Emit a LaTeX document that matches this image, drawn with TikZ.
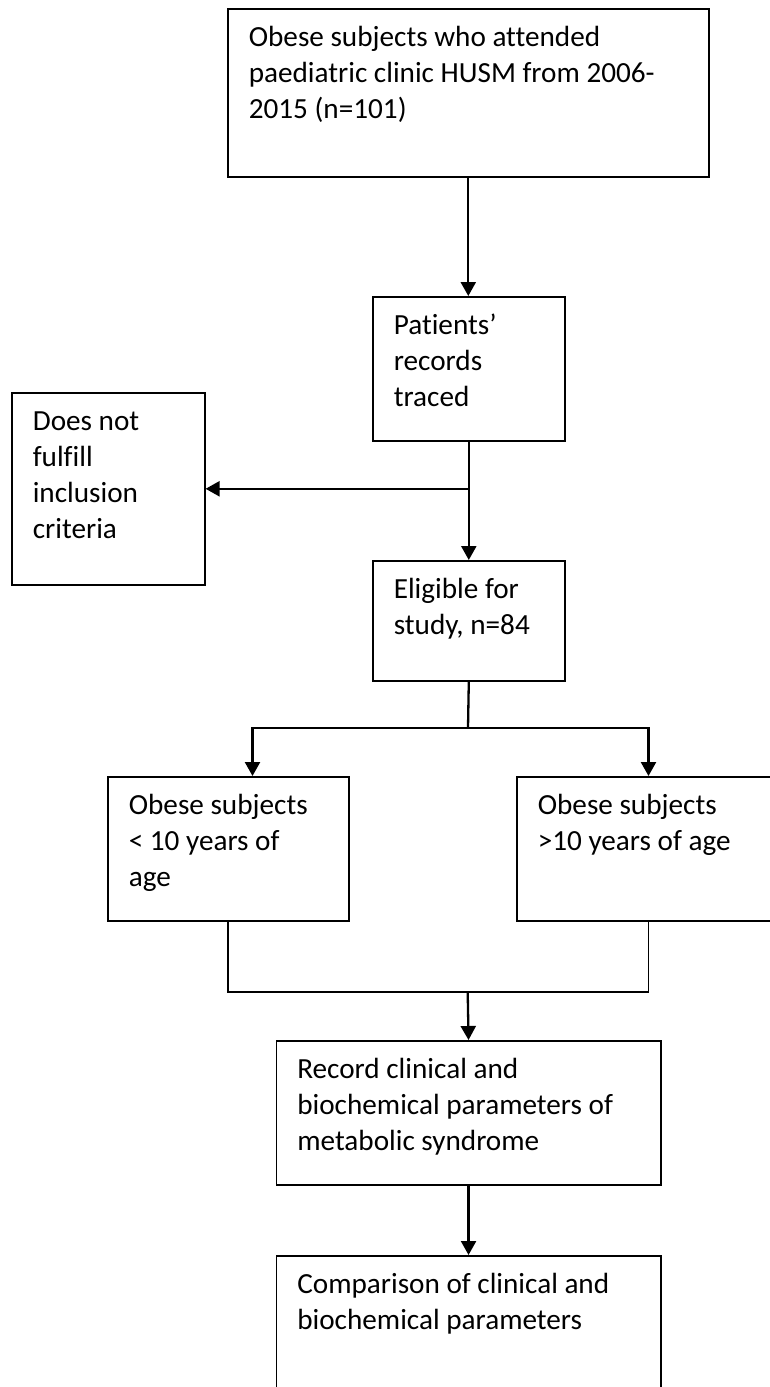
\documentclass[tikz,border=0pt]{standalone}
\usepackage{fontspec}
\setmainfont{Carlito}[Ligatures=NoCommon]
\usetikzlibrary{arrows.meta}
\begin{document}
\begin{tikzpicture}[x=1pt,y=-1pt,
  box/.style={draw, line width=1.6pt, anchor=north west, inner xsep=21pt, inner ysep=0pt,
    align=left, text height=38pt, font=\fontsize{29.2}{36}\selectfont,
    execute at begin node={\spaceskip=0pt\xspaceskip=0pt\relax}},
  conn/.style={line width=2.3pt},
  arr/.style={conn, -{Triangle[length=14pt,width=15pt]}},
  merge/.style={line width=1.8pt}]
\useasboundingbox (0,0) rectangle (770,1387);
\clip (0,0) rectangle (770,1387);
\fill[white] (0,0) rectangle (770,1387);

\node[box, text width=439pt, text depth=130pt] (B1) at (227,8)
  {Obese subjects who attended\\paediatric clinic HUSM from 2006-\\2015 (n=101)};
\node[box, text width=150pt, text depth=106pt] (B2) at (372,296)
  {Patients’\\records\\traced};
\node[box, text width=151pt, text depth=154pt] (L) at (11,392)
  {Does not\\fulfill\\inclusion\\criteria};
\node[box, text width=150pt, text depth=82pt] (B3) at (372,560)
  {Eligible for\\study, n=84};
\node[box, text width=199pt, text depth=106pt] (B4) at (107,776)
  {Obese subjects\\< 10 years of\\age};
\node[box, text width=221.4pt, text depth=106pt] (B5) at (516,776)
  {Obese subjects\\>10 years of age};
\node[box, text width=342.5pt, text depth=106pt] (B6) at (275.5,1040)
  {Record clinical and\\biochemical parameters of\\metabolic syndrome};
\node[box, text width=342.5pt, text depth=162pt] (B7) at (275.5,1255)
  {Comparison of clinical and\\biochemical parameters};

\draw[arr] (B1.south) -- (B1.south |- B2.north);
\coordinate (jL) at (B2.south |- L.east);
\draw[conn] (B2.south) -- (jL);
\draw[arr] (jL) -- (L.east);
\draw[arr] (jL) -- (B3.north);
\coordinate (jB) at (468,728);
\draw[conn] (B3.south) -- (jB);
\draw[arr] (jB) -| ([xshift=24.2pt]B4.north);
\draw[arr] (jB) -| (B5.north);
\coordinate (jM) at (467.7,992);
\draw[merge] (B4.south) |- (jM) -| (B5.south);
\draw[arr] (jM) -- (B6.north);
\draw[arr] (B6.south) -- (B7.north);
\end{tikzpicture}
\end{document}
